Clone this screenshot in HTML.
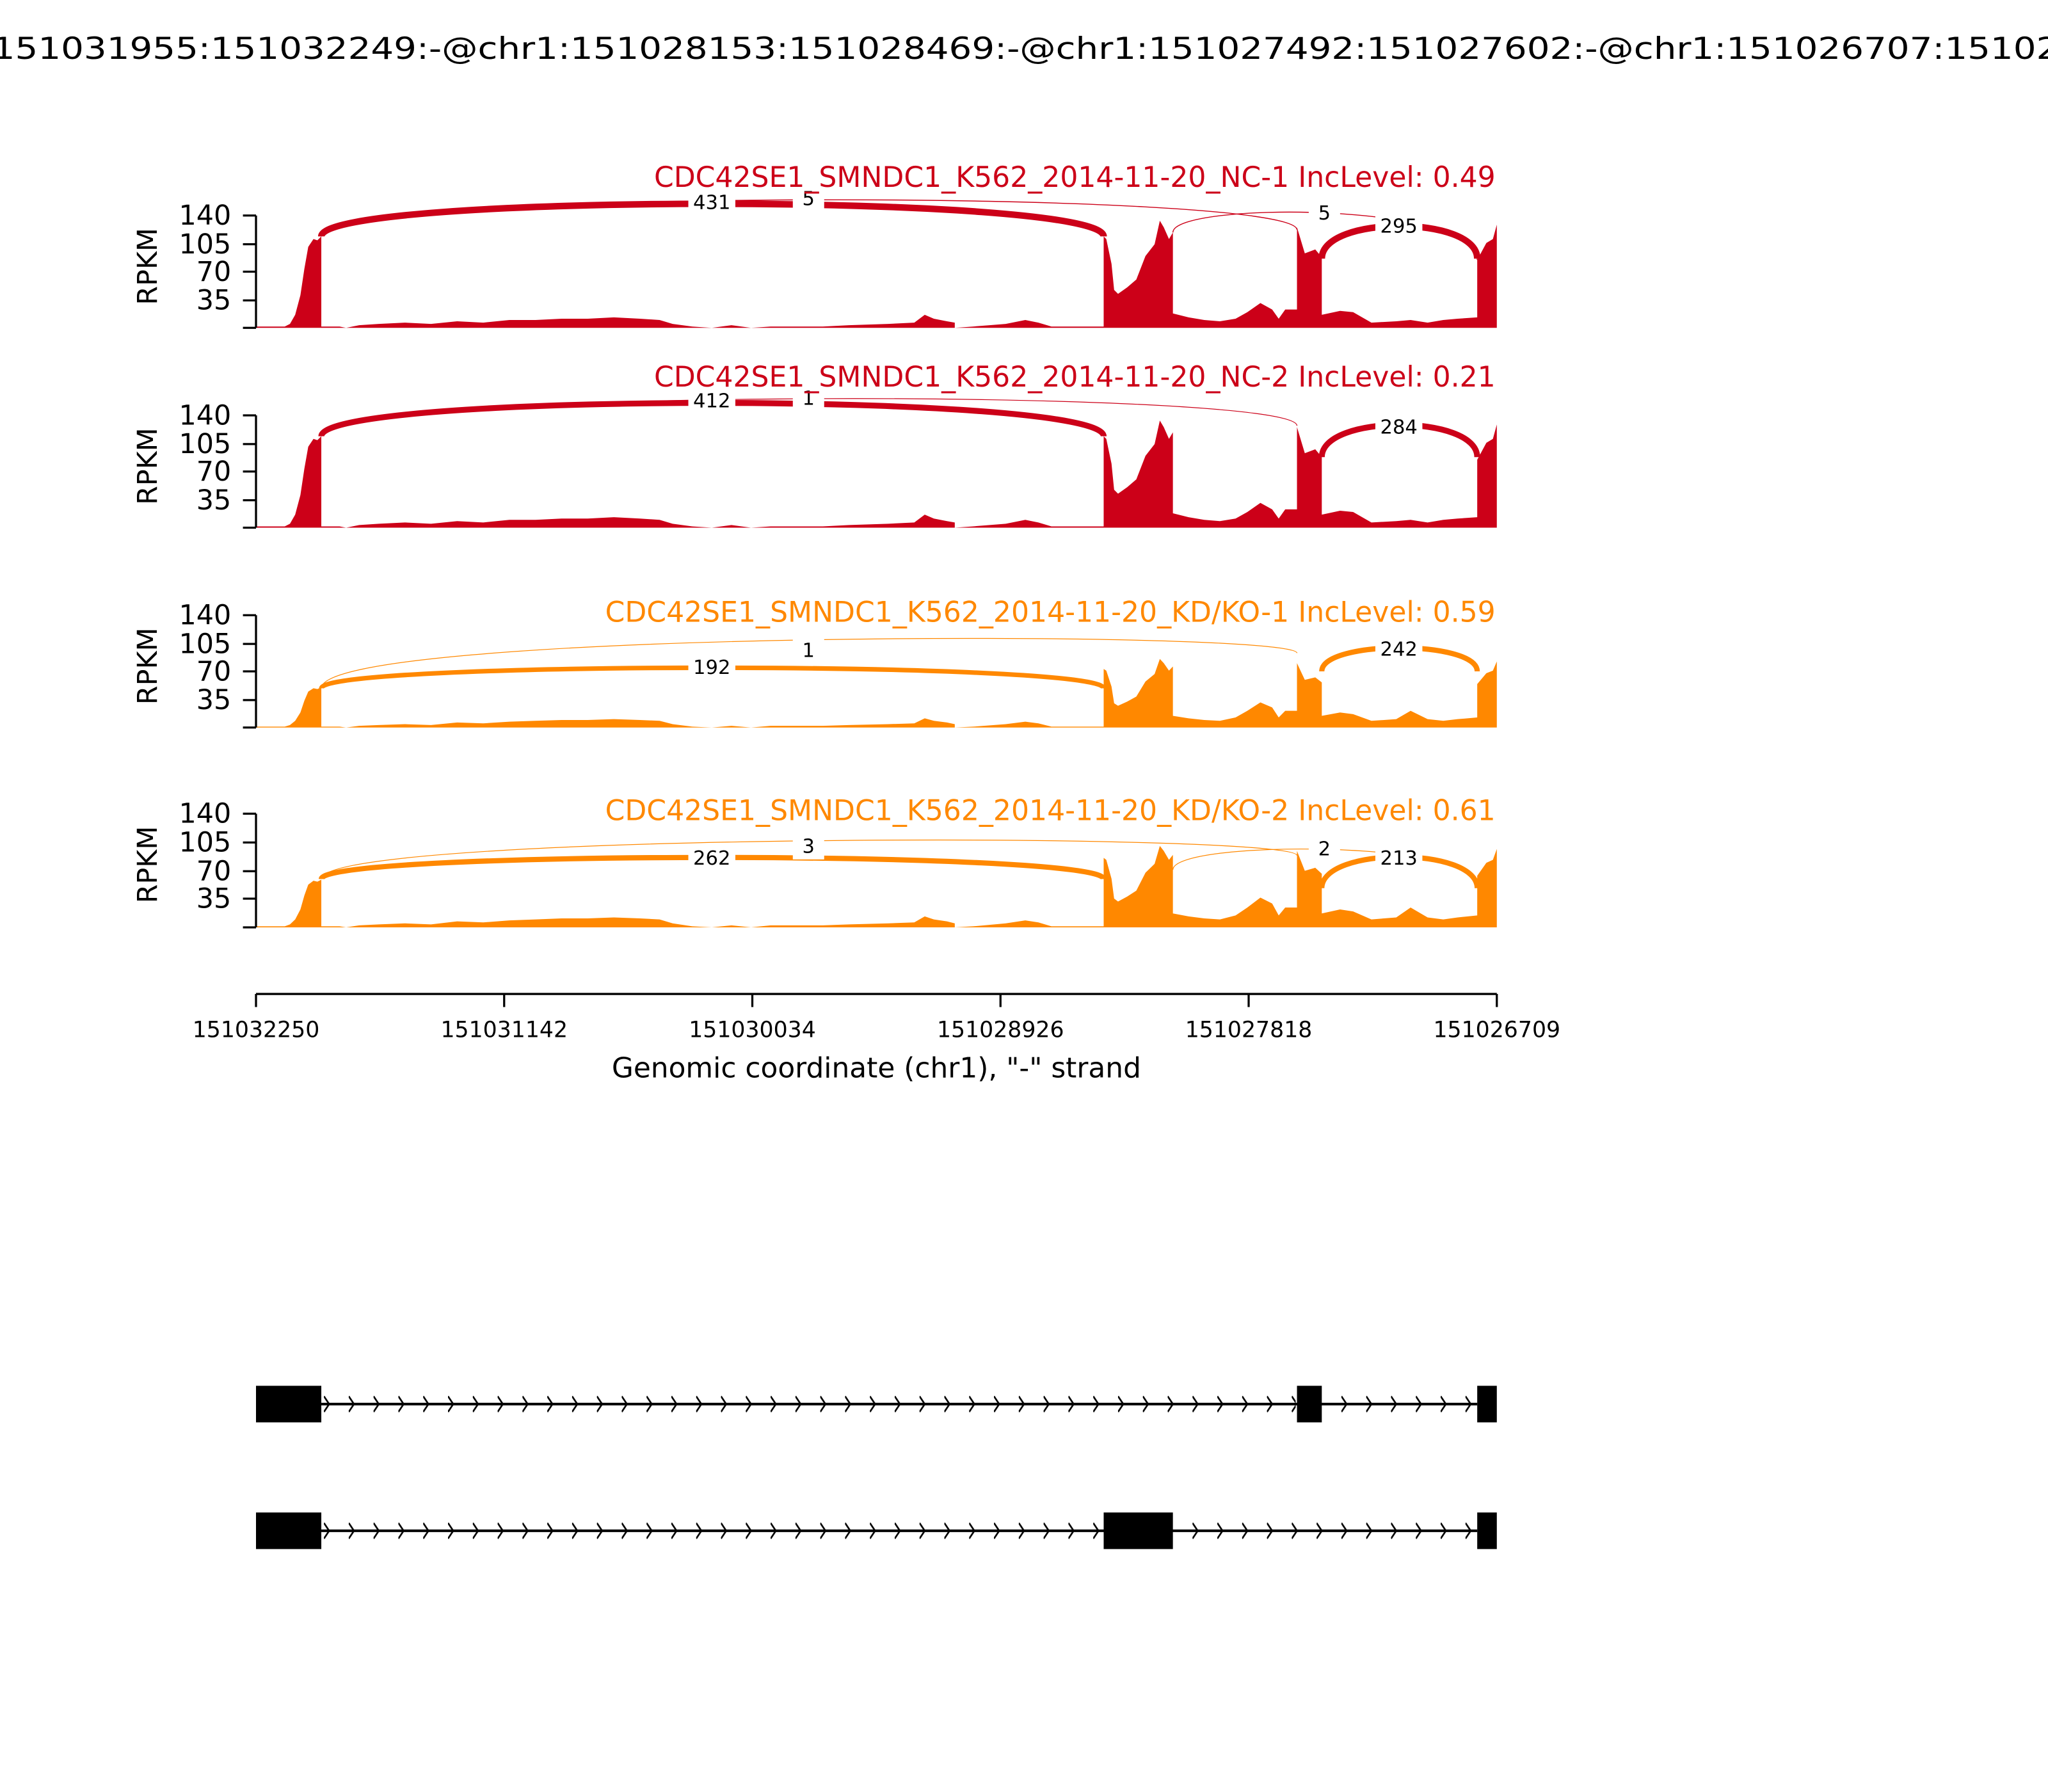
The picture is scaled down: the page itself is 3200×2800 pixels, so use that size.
<!DOCTYPE html>
<html><head><meta charset="utf-8"><style>html,body{margin:0;padding:0;background:#fff}svg{display:block}</style></head>
<body>
<svg xmlns="http://www.w3.org/2000/svg" width="3200" height="2800" viewBox="0 0 1568 1372" font-family="DejaVu Sans, Liberation Sans, sans-serif">
<defs>
<path id="cov" d="M196,0 L196,-1 L218,-1 L222,-3 L226,-10 L230,-25 L233,-45 L236,-62 L240,-68 L243,-67 L246,-70 L246,-1 L260,-1 L265,0 L275,-2 L290,-3 L310,-4 L330,-3 L350,-5 L370,-4 L390,-6 L410,-6 L430,-7 L450,-7 L470,-8 L490,-7 L505,-6 L515,-3 L530,-1 L545,0 L560,-2 L575,0 L590,-1 L610,-1 L630,-1 L650,-2 L680,-3 L700,-4 L708,-10 L715,-7 L725,-5 L731,-4 L731,0 L745,-1 L770,-3 L785,-6 L795,-4 L805,-1 L845,-1 L845,-70 L847,-68 L851,-49 L853,-29 L856,-26 L863,-31 L870,-37 L877,-55 L884,-64 L888,-82 L891,-77 L895,-68 L898,-73 L898,-11 L910,-8 L922,-6 L934,-5 L946,-7 L955,-12 L965,-19 L974,-14 L979,-7 L984,-14 L993,-14 L993,-77 L999,-57 L1007,-60 L1012,-54 L1012,-10 L1026,-13 L1036,-12 L1050,-4 L1069,-5 L1080,-6 L1093,-4 L1105,-6 L1116,-7 L1131,-8 L1131,-52 L1138,-65 L1143,-68 L1146,-79 L1146,0 Z"/>
<path id="covB" d="M196,0 L196,-1 L218,-1 L222,-3 L226,-8 L230,-18 L233,-32 L236,-43 L240,-47 L243,-46 L246,-48 L246,-1 L260,-1 L265,0 L275,-2 L290,-3 L310,-4 L330,-3 L350,-6 L370,-5 L390,-7 L410,-8 L430,-9 L450,-9 L470,-10 L490,-9 L505,-8 L515,-4 L530,-1 L545,0 L560,-2 L575,0 L590,-2 L610,-2 L630,-2 L650,-3 L680,-4 L700,-5 L708,-11 L715,-8 L725,-6 L731,-4 L731,0 L745,-1 L770,-4 L785,-7 L795,-5 L805,-1 L845,-1 L845,-70 L847,-68 L851,-49 L853,-29 L856,-26 L863,-31 L870,-37 L877,-55 L884,-64 L888,-82 L891,-77 L895,-68 L898,-73 L898,-14 L910,-11 L922,-9 L934,-8 L946,-12 L955,-20 L965,-30 L974,-24 L979,-12 L984,-20 L993,-20 L993,-77 L999,-57 L1007,-60 L1012,-54 L1012,-14 L1026,-18 L1036,-16 L1050,-8 L1069,-10 L1080,-20 L1093,-10 L1105,-8 L1116,-10 L1131,-12 L1131,-52 L1138,-65 L1143,-68 L1146,-79 L1146,0 Z"/>
</defs>
<rect width="1568" height="1372" fill="#fff"/>
<text x="-6" y="45" font-size="23" textLength="1600" lengthAdjust="spacingAndGlyphs">151031955:151032249:-@chr1:151028153:151028469:-@chr1:151027492:151027602:-@chr1:151026707:151026</text>

<!-- Panel 1 -->
<g>
<use href="#cov" transform="translate(0,251)" fill="#CC0018"/>
<g fill="none" stroke="#CC0018">
<path d="M246,181 C246,147.7 845,147.7 845,181" stroke-width="5"/>
<path d="M246,181 C246,144.5 993,144.5 993,176" stroke-width="0.7"/>
<path d="M898,178 C898,154.5 1131,154.5 1131,199" stroke-width="0.7"/>
<path d="M1012,198 C1012,164.7 1131,164.7 1131,198" stroke-width="5"/>
</g>
<g font-size="15" text-anchor="middle">
<rect x="527" y="145" width="36" height="19" fill="#fff"/><text x="545" y="160">431</text>
<rect x="607" y="142" width="24" height="19" fill="#fff"/><text x="619" y="157">5</text>
<rect x="1002" y="154" width="24" height="19" fill="#fff"/><text x="1014" y="168">5</text>
<rect x="1053" y="163" width="36" height="19" fill="#fff"/><text x="1071" y="178">295</text>
</g>
<text x="1145" y="143" font-size="21.6" text-anchor="end" fill="#CC0018">CDC42SE1_SMNDC1_K562_2014-11-20_NC-1 IncLevel: 0.49</text>
</g>

<!-- Panel 2 -->
<g>
<use href="#cov" transform="translate(0,404)" fill="#CC0018"/>
<g fill="none" stroke="#CC0018">
<path d="M246,334 C246,300 845,300 845,334" stroke-width="4.5"/>
<path d="M246,334 C246,297 993,297 993,326" stroke-width="0.6"/>
<path d="M1012,350 C1012,317 1131,317 1131,350" stroke-width="4.5"/>
</g>
<g font-size="15" text-anchor="middle">
<rect x="527" y="297" width="36" height="19" fill="#fff"/><text x="545" y="312">412</text>
<rect x="607" y="295" width="24" height="19" fill="#fff"/><text x="619" y="310">1</text>
<rect x="1053" y="317" width="36" height="19" fill="#fff"/><text x="1071" y="332">284</text>
</g>
<text x="1145" y="296" font-size="21.6" text-anchor="end" fill="#CC0018">CDC42SE1_SMNDC1_K562_2014-11-20_NC-2 IncLevel: 0.21</text>
</g>

<!-- Panel 3 -->
<g>
<use href="#covB" transform="translate(0,557) scale(1,0.64)" fill="#FF8800"/>
<g fill="none" stroke="#FF8800">
<path d="M246,527 C246,506 845,506 845,527" stroke-width="3.5"/>
<path d="M246,527 C246,482 993,482 993,500" stroke-width="0.6"/>
<path d="M1012,514 C1012,490 1131,490 1131,514" stroke-width="4"/>
</g>
<g font-size="15" text-anchor="middle">
<rect x="527" y="501" width="36" height="19" fill="#fff"/><text x="545" y="516">192</text>
<rect x="607" y="488" width="24" height="19" fill="#fff"/><text x="619" y="503">1</text>
<rect x="1053" y="487" width="36" height="19" fill="#fff"/><text x="1071" y="502">242</text>
</g>
<text x="1145" y="476" font-size="21.6" text-anchor="end" fill="#FF8800">CDC42SE1_SMNDC1_K562_2014-11-20_KD/KO-1 IncLevel: 0.59</text>
</g>

<!-- Panel 4 -->
<g>
<use href="#covB" transform="translate(0,710) scale(1,0.76)" fill="#FF8800"/>
<g fill="none" stroke="#FF8800">
<path d="M246,673 C246,651 845,651 845,673" stroke-width="4"/>
<path d="M246,673 C246,637 993,637 993,655" stroke-width="0.6"/>
<path d="M898,666 C898,643 1131,643 1131,678" stroke-width="0.6"/>
<path d="M1012,680 C1012,648 1131,648 1131,680" stroke-width="4"/>
</g>
<g font-size="15" text-anchor="middle">
<rect x="527" y="647" width="36" height="19" fill="#fff"/><text x="545" y="662">262</text>
<rect x="607" y="639" width="24" height="19" fill="#fff"/><text x="619" y="653">3</text>
<rect x="1002" y="641" width="24" height="19" fill="#fff"/><text x="1014" y="655">2</text>
<rect x="1053" y="647" width="36" height="19" fill="#fff"/><text x="1071" y="662">213</text>
</g>
<text x="1145" y="628" font-size="21.6" text-anchor="end" fill="#FF8800">CDC42SE1_SMNDC1_K562_2014-11-20_KD/KO-2 IncLevel: 0.61</text>
</g>

<!-- Y axes -->
<g stroke="#000" stroke-width="1.6" fill="none">
<path d="M196,165 V251 M186,165 H196 M186,187 H196 M186,208 H196 M186,230 H196 M186,251 H196"/>
<path d="M196,318 V404 M186,318 H196 M186,340 H196 M186,361 H196 M186,383 H196 M186,404 H196"/>
<path d="M196,471 V557 M186,471 H196 M186,493 H196 M186,514 H196 M186,536 H196 M186,557 H196"/>
<path d="M196,623 V710 M186,623 H196 M186,645 H196 M186,667 H196 M186,688 H196 M186,710 H196"/>
</g>
<g font-size="21" text-anchor="end">
<text x="177" y="172">140</text><text x="177" y="194">105</text><text x="177" y="215">70</text><text x="177" y="237">35</text>
<text x="177" y="325">140</text><text x="177" y="347">105</text><text x="177" y="368">70</text><text x="177" y="390">35</text>
<text x="177" y="478">140</text><text x="177" y="500">105</text><text x="177" y="521">70</text><text x="177" y="543">35</text>
<text x="177" y="630">140</text><text x="177" y="652">105</text><text x="177" y="674">70</text><text x="177" y="695">35</text>
</g>
<g font-size="21" text-anchor="middle">
<text transform="translate(120,204) rotate(-90)">RPKM</text>
<text transform="translate(120,357) rotate(-90)">RPKM</text>
<text transform="translate(120,510) rotate(-90)">RPKM</text>
<text transform="translate(120,662) rotate(-90)">RPKM</text>
</g>

<!-- X axis -->
<g stroke="#000" stroke-width="1.6">
<path d="M196,761 H1146 M196,761 V771 M386,761 V771 M576,761 V771 M766,761 V771 M956,761 V771 M1146,761 V771"/>
</g>
<g font-size="17" text-anchor="middle">
<text x="196" y="794">151032250</text><text x="386" y="794">151031142</text><text x="576" y="794">151030034</text>
<text x="766" y="794">151028926</text><text x="956" y="794">151027818</text><text x="1146" y="794">151026709</text>
</g>
<text x="671" y="825" font-size="21.5" text-anchor="middle">Genomic coordinate (chr1), "-" strand</text>

<!-- Gene tracks -->
<defs>
<pattern id="chev" x="248" y="0" width="19" height="1372" patternUnits="userSpaceOnUse">
<path d="M0,1069 L4,1075 L0,1081 M0,1166 L4,1172 L0,1178" stroke="#000" stroke-width="1.3" fill="none"/>
</pattern>
</defs>
<g fill="#000">
<rect x="196" y="1061" width="50" height="28"/>
<rect x="993" y="1061" width="19" height="28"/>
<rect x="1131" y="1061" width="15" height="28"/>
<rect x="246" y="1074" width="885" height="2"/>
<rect x="196" y="1158" width="50" height="28"/>
<rect x="845" y="1158" width="53" height="28"/>
<rect x="1131" y="1158" width="15" height="28"/>
<rect x="246" y="1171" width="885" height="2"/>
</g>
<rect x="247" y="1066" width="745" height="18" fill="url(#chev)"/>
<rect x="1013" y="1066" width="117" height="18" fill="url(#chev)"/>
<rect x="247" y="1163" width="597" height="18" fill="url(#chev)"/>
<rect x="899" y="1163" width="231" height="18" fill="url(#chev)"/>
</svg>
</body></html>
